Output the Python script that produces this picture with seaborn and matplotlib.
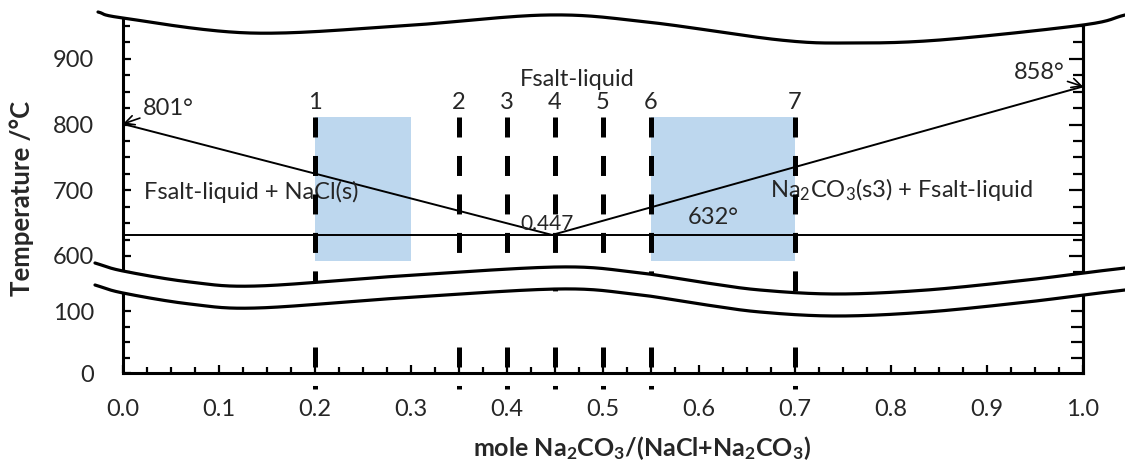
import numpy as np
import seaborn as sns
import matplotlib.pyplot as plt
from matplotlib.ticker import FixedLocator, MultipleLocator, FormatStrFormatter

# NaCl - Na2CO3 phase diagram
liq_x = [0.0, 0.447, 1.0]          # liquidus through the eutectic
liq_t = [801, 632, 858]
eut_x = [0.0, 1.0]                 # eutectic isotherm
eut_t = [632, 632]
sample_x = [0.2, 0.35, 0.4, 0.45, 0.5, 0.55, 0.7]
sample_lbl = ['1', '2', '3', '4', '5', '6', '7']
sample_top = 811
sample_low = [42, -25]             # part of the sample lines in the low panel
box_x = [[0.2, 0.3], [0.55, 0.7]]  # shaded composition ranges
box_t = [593, 811]

sns.set_theme(style='ticks')
plt.rcParams['font.family'] = ['Lato', 'DejaVu Sans']
plt.rcParams['mathtext.default'] = 'regular'
plt.rcParams['lines.scale_dashes'] = False

W, H = 1125, 463
fig = plt.figure(figsize=(W / 100, H / 100), dpi=100)
fig.patch.set_facecolor('white')


def px_box(l, t, w, h):
    return [l / W, 1 - (t + h) / H, w / W, h / H]


ax_top = fig.add_axes(px_box(123, 16.2, 960, 279.2))
ax_bot = fig.add_axes(px_box(123, 292.4, 960, 80.6))
ax_top.set_ylim(540, 965)
ax_bot.set_ylim(0, 130)
for ax in (ax_top, ax_bot):
    ax.set_xlim(0, 1)
    ax.set_xlabel('')
    ax.set_ylabel('')

# shaded boxes
blue = '#BDD7EE'
for bx in box_x:
    ax_top.fill_between(bx, box_t[0], box_t[1], color=blue, lw=0, zorder=1)

# liquidus and eutectic lines
sns.lineplot(x=liq_x, y=liq_t, ax=ax_top, color='black', lw=1.4, zorder=3)
sns.lineplot(x=eut_x, y=eut_t, ax=ax_top, color='black', lw=1.4, zorder=3)

# sample composition lines
dash = (14.4, 13.3)
for xv, lb in zip(sample_x, sample_lbl):
    ax_top.plot([xv, xv], [sample_top, 540], color='black', lw=3.6,
                ls=(0, dash), dash_capstyle='butt', zorder=4)
    ax_bot.plot([xv, xv], sample_low, color='black', lw=3.6,
                ls=(0, dash), dash_capstyle='butt', zorder=4, clip_on=False)
    ax_top.text(xv, 834, lb, ha='center', va='center', fontsize=17, zorder=5)

# labels
ax_top.text(0.473, 868, 'Fsalt-liquid', ha='center', va='center', fontsize=17)
ax_top.text(0.134, 697, 'Fsalt-liquid + NaCl(s)', ha='center', va='center',
            fontsize=17, zorder=3)
ax_top.text(0.811, 701, 'Na$_2$CO$_3$(s3) + Fsalt-liquid', ha='center',
            va='center', fontsize=17, zorder=3)
ax_top.text(0.442, 649, '0.447', ha='center', va='center', fontsize=15, zorder=3)
ax_top.text(0.615, 658, '632°', ha='center', va='center', fontsize=17, zorder=3)
ax_top.annotate('801°', xy=(liq_x[0], liq_t[0]), xytext=(0.021, 825),
                ha='left', va='center', fontsize=17,
                arrowprops=dict(arrowstyle='->', lw=1.2, color='black',
                                shrinkA=0, shrinkB=0))
ax_top.annotate('858°', xy=(liq_x[-1], liq_t[-1]), xytext=(0.954, 880),
                ha='center', va='center', fontsize=17,
                arrowprops=dict(arrowstyle='->', lw=1.2, color='black',
                                shrinkA=0, shrinkB=0))

# axes styling
for ax in (ax_top, ax_bot):
    ax.spines['top'].set_visible(False)
    for s in ('left', 'right', 'bottom'):
        ax.spines[s].set_linewidth(2.2)
        ax.spines[s].set_color('black')
    ax.tick_params(axis='y', which='both', direction='in', left=True,
                   right=False, width=1.6, color='black', labelsize=17, pad=21)
    ax.tick_params(axis='y', which='major', length=6)
    ax.tick_params(axis='y', which='minor', length=5)
ax_top.spines['bottom'].set_visible(False)
ax_top.tick_params(axis='x', which='both', bottom=False, labelbottom=False)
ax_top.yaxis.set_major_locator(FixedLocator([600, 700, 800, 900]))
ax_top.yaxis.set_minor_locator(MultipleLocator(25))
ax_bot.yaxis.set_major_locator(FixedLocator([0, 100]))
ax_bot.yaxis.set_minor_locator(FixedLocator([25, 50, 75]))
ax_bot.xaxis.set_major_locator(MultipleLocator(0.1))
ax_bot.xaxis.set_minor_locator(MultipleLocator(0.025))
ax_bot.xaxis.set_major_formatter(FormatStrFormatter('%.1f'))
ax_bot.tick_params(axis='x', which='both', direction='in', bottom=True,
                   top=False, width=1.6, color='black', labelsize=17, pad=19)
ax_bot.tick_params(axis='x', which='major', length=6)
ax_bot.tick_params(axis='x', which='minor', length=4.5)

# right-hand axes carry longer inward ticks and no labels
sec_top = ax_top.secondary_yaxis('right')
sec_top.yaxis.set_major_locator(FixedLocator([600, 700, 800, 900]))
sec_top.yaxis.set_minor_locator(MultipleLocator(25))
sec_top.tick_params(which='both', direction='in', width=1.6, color='black',
                    labelright=False)
sec_top.tick_params(which='major', length=10)
sec_top.tick_params(which='minor', length=7)
sec_top.spines['right'].set_linewidth(2.2)
sec_bot = ax_bot.secondary_yaxis('right')
sec_bot.yaxis.set_major_locator(FixedLocator([25, 50, 75, 100]))
sec_bot.yaxis.set_minor_locator(FixedLocator([]))
sec_bot.tick_params(which='both', direction='in', width=1.6, color='black',
                    length=8.5, labelright=False)
sec_bot.spines['right'].set_linewidth(2.2)

fig.text(22 / W, 1 - 198 / H, 'Temperature /°C', rotation=90, ha='center',
         va='center', fontsize=18.5, fontweight='bold')
fig.text(642 / W, 1 - 456 / H, 'mole Na$_2$CO$_3$/(NaCl+Na$_2$CO$_3$)',
         ha='center', va='baseline', fontsize=18, fontweight='bold')


# axis-break decoration drawn in pixel space
def smooth(pts, n=40):
    p = np.array(pts, float)
    p = np.vstack([2 * p[0] - p[1], p, 2 * p[-1] - p[-2]])
    out = []
    t = np.linspace(0, 1, n, endpoint=False)[:, None]
    for i in range(1, len(p) - 2):
        p0, p1, p2, p3 = p[i - 1], p[i], p[i + 1], p[i + 2]
        out.append(0.5 * (2 * p1 + (-p0 + p2) * t
                          + (2 * p0 - 5 * p1 + 4 * p2 - p3) * t ** 2
                          + (-p0 + 3 * p1 - 3 * p2 + p3) * t ** 3))
    out.append(p[-2][None])
    return np.vstack(out)


ov = fig.add_axes([0, 0, 1, 1], zorder=10)
ov.set_xlim(0, W)
ov.set_ylim(H, 0)
ov.axis('off')

top_wave = smooth([(98, 12), (123, 18), (250, 33), (400, 26), (547, 15),
                   (647, 22), (780, 40), (850, 43), (940, 40), (1083, 25),
                   (1125, 15)])
ov.fill_between(top_wave[:, 0], -5, top_wave[:, 1], color='white', lw=0)
ov.plot(top_wave[:, 0], top_wave[:, 1], color='black', lw=2.3)

mid_wave = smooth([(95, 263), (123, 271), (190, 282), (257, 286), (400, 276),
                   (557, 267), (633, 272), (700, 282), (760, 290), (837, 294),
                   (927, 290), (1027, 280), (1083, 273), (1125, 268)])
gap = 22
ov.fill_between(mid_wave[:, 0], mid_wave[:, 1], mid_wave[:, 1] + gap,
                color='white', lw=0)
ov.plot(mid_wave[:, 0], mid_wave[:, 1], color='black', lw=2.3)
ov.plot(mid_wave[:, 0], mid_wave[:, 1] + gap, color='black', lw=2.3)

fig.savefig('out.png', dpi=100, facecolor='white')
